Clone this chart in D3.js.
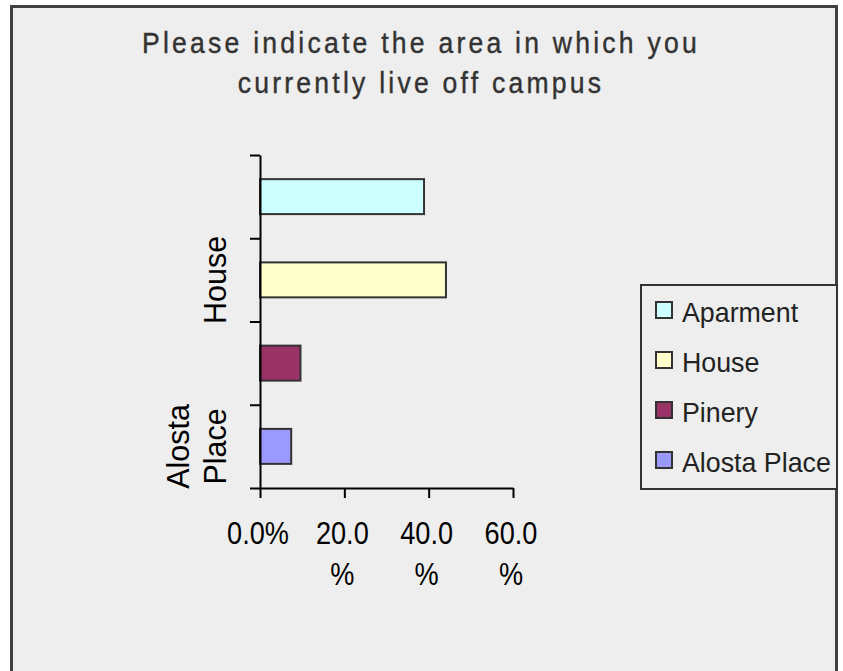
<!DOCTYPE html>
<html>
<head>
<meta charset="utf-8">
<script src="https://cdn.jsdelivr.net/npm/d3@7"></script>
<style>
  html, body { margin: 0; padding: 0; background: #ffffff; }
  svg { display: block; }
  text { font-family: "Liberation Sans", Arial, sans-serif; }
</style>
</head>
<body>
<svg id="chart" width="843" height="671"></svg>
<script>
// ---- data ----
const titleLines = ["Please indicate the area in which you", "currently live off campus"];
const categories = ["Aparment", "House", "Pinery", "Alosta Place"];
const values = [38.9, 44.1, 9.6, 7.4];
const colors = ["#CCFFFF", "#FFFFCC", "#993366", "#9999FF"];
const axisLabels = [[], ["House"], [], ["Alosta", "Place"]];
const xTicks = [0, 20, 40, 60];
const xTickLabels = [["0.0%"], ["20.0", "%"], ["40.0", "%"], ["60.0", "%"]];

// ---- layout ----
const svg = d3.select("#chart");
const plot = { left: 260, right: 513, top: 155, bottom: 488 };

// chart area with border
svg.append("rect")
  .attr("x", 11.5).attr("y", 6.5)
  .attr("width", 825).attr("height", 690)
  .attr("fill", "#EEEEEE")
  .attr("stroke", "#404040").attr("stroke-width", 3);

// title
svg.append("g").selectAll("text").data(titleLines).join("text")
  .attr("transform", (d, i) => `translate(421,${53 + i * 40}) scale(0.9,1)`)
  .attr("text-anchor", "middle")
  .attr("font-size", 29.5)
  .attr("letter-spacing", 3.6)
  .attr("fill", "#333333")
  .attr("stroke", "#333333").attr("stroke-width", 0.4)
  .text(d => d);

const x = d3.scaleLinear().domain([0, 60]).range([plot.left, plot.right]);
const y = d3.scaleBand().domain(categories).range([plot.top, plot.bottom])
  .paddingInner(0.58).paddingOuter(0.29);
const yEdge = d3.scaleLinear().domain([0, categories.length]).range([plot.top, plot.bottom]);

// bars
svg.append("g").selectAll("rect").data(categories).join("rect")
  .attr("x", x(0))
  .attr("y", d => y(d))
  .attr("width", (d, i) => x(values[i]) - x(0))
  .attr("height", y.bandwidth())
  .attr("fill", (d, i) => colors[i])
  .attr("stroke", "#333333").attr("stroke-width", 2);

// y axis
const yAxis = svg.append("g")
  .attr("transform", `translate(${plot.left},0)`)
  .call(d3.axisLeft(yEdge).tickValues(d3.range(categories.length + 1)).tickFormat("").tickSize(10).tickSizeOuter(0));
yAxis.selectAll("path, line").attr("stroke", "#000").attr("stroke-width", 2);

// x axis
const xAxis = svg.append("g")
  .attr("transform", `translate(0,${plot.bottom})`)
  .call(d3.axisBottom(x).tickValues(xTicks).tickFormat("").tickSize(10).tickSizeOuter(0));
xAxis.selectAll("path, line").attr("stroke", "#000").attr("stroke-width", 2);

// x tick labels
svg.append("g").selectAll("text").data(xTicks).join("text")
  .attr("transform", d => `translate(${x(d) - 2},544) scale(0.89,1)`)
  .attr("text-anchor", "middle")
  .attr("font-size", 30.5)
  .attr("fill", "#000")
  .each(function (d, i) {
    d3.select(this).selectAll("tspan").data(xTickLabels[i]).join("tspan")
      .attr("x", 0).attr("y", (s, j) => j * 41).text(s => s);
  });

// y category labels (rotated)
svg.append("g").selectAll("text").data(categories).join("text")
  .attr("transform", d => `translate(226,${y(d) + y.bandwidth() / 2}) rotate(-90)`)
  .attr("text-anchor", "middle")
  .attr("font-size", 30.5)
  .attr("fill", "#000")
  .each(function (d, i) {
    const lines = axisLabels[i];
    const n = lines.length;
    d3.select(this).selectAll("tspan").data(lines).join("tspan")
      .attr("x", 0)
      .attr("y", (s, j) => (j - (n - 1)) * 37)
      .text(s => s);
  });

// legend
const lg = svg.append("g");
lg.append("rect")
  .attr("x", 641).attr("y", 285).attr("width", 196).attr("height", 204)
  .attr("fill", "#EEEEEE").attr("stroke", "#333333").attr("stroke-width", 2);
const items = lg.selectAll("g.item").data(categories).join("g")
  .attr("class", "item")
  .attr("transform", (d, i) => `translate(656,${302 + i * 50})`);
items.append("rect")
  .attr("width", 16).attr("height", 16)
  .attr("fill", (d, i) => colors[i])
  .attr("stroke", "#333333").attr("stroke-width", 2);
items.append("text")
  .attr("transform", "translate(26,19.5) scale(0.94,1)")
  .attr("font-size", 28.5)
  .attr("fill", "#222222")
  .text(d => d);
</script>
</body>
</html>
